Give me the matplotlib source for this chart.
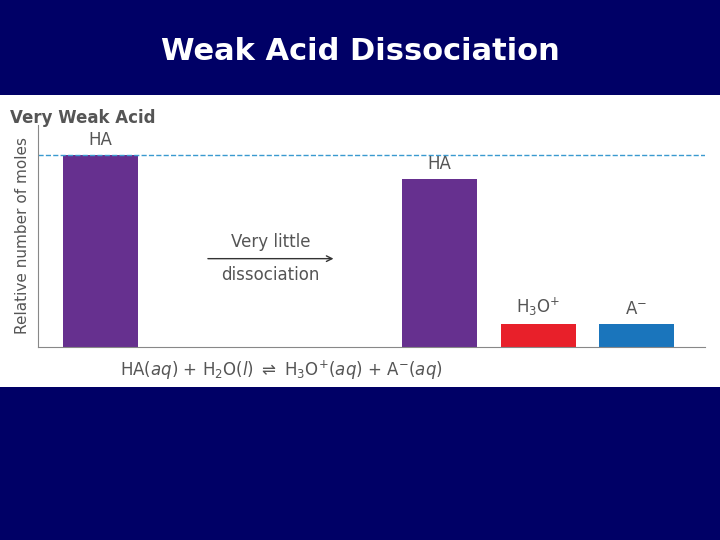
import matplotlib
matplotlib.use("Agg")
import matplotlib.pyplot as plt

labels = ["HA", "HA", "H$_3$O$^{+}$", "A$^{-}$"]
positions = [0, 4.53, 5.85, 7.15]
values = [1.0, 0.875, 0.12, 0.12]
colors = ["#66308f", "#66308f", "#e8202a", "#1a75bc"]

fig = plt.figure(figsize=(7.2, 5.4), dpi=100)
fig.patch.set_facecolor("#000066")
fig.text(0.5, 0.905, "Weak Acid Dissociation", color="white", fontsize=22,
         ha="center", va="center", family="DejaVu Sans", fontweight="bold")
panel = fig.add_axes([0, 1 - 387/540, 1, (387-95)/540])
panel.set_facecolor("white"); panel.set_xticks([]); panel.set_yticks([])
for s in panel.spines.values(): s.set_visible(False)

ax = fig.add_axes([38/720, 1 - 347/540, (705-38)/720, (347-125)/540])
ax.set_facecolor("none")
ax.bar(positions, values, width=1.0, color=colors)
for x, v, l in zip(positions, values, labels):
    ax.text(x, v + 0.03, l, ha="center", va="bottom", fontsize=12, color="#555555")
ax.axhline(1.0, color="#3a9ad0", ls="--", lw=1)
ax.set_xlim(-0.83, 8.07)
ax.set_ylim(0, 1.156)
ax.set_xticks([]); ax.set_yticks([])
for s in ["top", "right"]: ax.spines[s].set_visible(False)
for s in ["left", "bottom"]: ax.spines[s].set_color("#888888")
ax.set_ylabel("Relative number of moles", color="#555555", fontsize=11, labelpad=6)
fig.text(10/720, 1 - 118/540, "Very Weak Acid", fontsize=12, color="#555555",
         fontweight="bold", ha="left", va="center")
ax.annotate("", xy=(3.15, 0.46), xytext=(1.4, 0.46),
            arrowprops=dict(arrowstyle="->", color="#333333", lw=1))
ax.text(2.27, 0.5, "Very little", ha="center", va="bottom", fontsize=12, color="#555555")
ax.text(2.27, 0.42, "dissociation", ha="center", va="top", fontsize=12, color="#555555")
fig.text(120/720, 1 - 370/540,
         r"HA($aq$) + H$_2$O($l$) $\rightleftharpoons$ H$_3$O$^{+}$($aq$) + A$^{-}$($aq$)",
         fontsize=12, color="#555555", va="center")
fig.savefig("out.png", dpi=100, facecolor=fig.get_facecolor())
